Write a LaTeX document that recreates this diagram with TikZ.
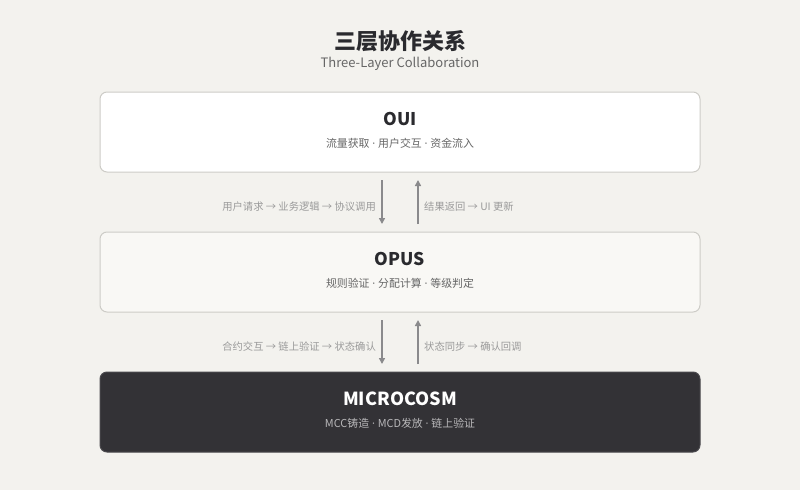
\documentclass[tikz,border=0pt]{standalone}
\usepackage{fontspec}
\setmainfont{Noto Sans CJK SC}
\newfontfamily\latinsep{Noto Sans}
\newcommand{\sepdot}{{\latinsep\ ·\ }}
\usetikzlibrary{arrows.meta}
\definecolor{bgc}{HTML}{F3F2EE}
\definecolor{bordc}{HTML}{CDCCC7}
\definecolor{opusfill}{HTML}{F9F8F5}
\definecolor{darkfill}{HTML}{333236}
\definecolor{darkbord}{HTML}{4A494D}
\definecolor{titlec}{HTML}{2A2A2E}
\definecolor{subc}{HTML}{666666}
\definecolor{labc}{HTML}{9A9A9A}
\definecolor{arrc}{HTML}{8A8A8C}
\tikzset{
  layerbox/.style={draw=bordc, line width=1pt, rounded corners=7pt, minimum width=600pt, minimum height=80pt, inner sep=0pt},
  layername/.style={font=\bfseries\fontsize{17.5}{20}\selectfont, text=titlec, inner sep=0pt},
  layerdesc/.style={font=\fontsize{10.9}{12}\selectfont, text=subc, inner sep=0pt},
  flowlab/.style={font=\fontsize{10.3}{12}\selectfont, text=labc, inner sep=0pt},
  flowarrow/.style={draw=arrc, line width=1.6pt, -{Triangle[length=6pt,width=6pt]}},
}
\begin{document}
\begin{tikzpicture}[x=1pt,y=-1pt]
\useasboundingbox[fill=bgc] (0,0) rectangle (800,490);
% title
\node[font=\bfseries\fontsize{22}{25}\selectfont, text=titlec, inner sep=0pt] (title) at (400,41) {三层协作关系};
\node[font=\fontsize{13}{15}\selectfont, text=subc, inner sep=0pt] (subtitle) at (400,64) {Three-Layer Collaboration};
% boxes
\node[layerbox, fill=white] (oui) at (400,132) {};
\node[layerbox, fill=opusfill] (opus) at (400,272) {};
\node[layerbox, fill=darkfill, draw=darkbord] (micro) at (400,412) {};
% box texts
\node[layername] (ouiname) at (400,119) {OUI};
\node[layerdesc] (ouidesc) at (400,143) {流量获取\sepdot 用户交互\sepdot 资金流入};
\node[layername] (opusname) at (400,259) {OPUS};
\node[layerdesc] (opusdesc) at (400,283) {规则验证\sepdot 分配计算\sepdot 等级判定};
\node[layername, text=white, font=\bfseries\fontsize{18}{20}\selectfont] (microname) at (400,399) {MICROCOSM};
\node[layerdesc, text=white!65!darkfill] (microdesc) at (400,423) {MCC铸造\sepdot MCD发放\sepdot 链上验证};
% arrows between OUI and OPUS
\coordinate (a1s) at (382,180); \coordinate (a1e) at (382,224);
\coordinate (a2s) at (418,224); \coordinate (a2e) at (418,180);
\draw[flowarrow] (a1s) -- (a1e);
\draw[flowarrow] (a2s) -- (a2e);
\node[flowlab, anchor=east] (l1) at (376,207) {用户请求 → 业务逻辑 → 协议调用};
\node[flowlab, anchor=west] (r1) at (424,207) {结果返回 → UI 更新};
% arrows between OPUS and MICROCOSM
\coordinate (b1s) at (382,320); \coordinate (b1e) at (382,364);
\coordinate (b2s) at (418,364); \coordinate (b2e) at (418,320);
\draw[flowarrow] (b1s) -- (b1e);
\draw[flowarrow] (b2s) -- (b2e);
\node[flowlab, anchor=east] (l2) at (376,347) {合约交互 → 链上验证 → 状态确认};
\node[flowlab, anchor=west] (r2) at (424,347) {状态同步 → 确认回调};
\end{tikzpicture}
\end{document}
